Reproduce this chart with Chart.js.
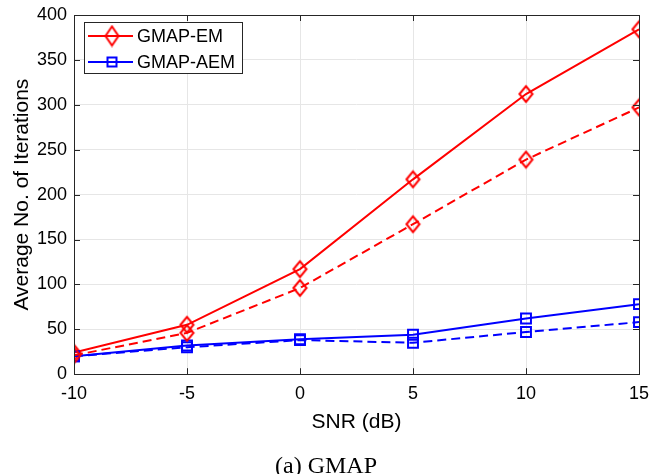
<!DOCTYPE html>
<html>
<head>
<meta charset="utf-8">
<script src="https://cdn.jsdelivr.net/npm/chart.js@4.4.1/dist/chart.umd.min.js"></script>
<style>
  html, body { margin: 0; padding: 0; background: #fff; }
  #wrap { width: 651px; height: 474px; position: relative; }
</style>
</head>
<body>
<div id="wrap"><canvas id="iterChart" width="651" height="474"></canvas></div>
<script>
// SNR points (dB)
let snr = [-10, -5, 0, 5, 10, 15];
let yTicks = [0, 50, 100, 150, 200, 250, 300, 350, 400];

let emSolid = [24, 55, 117, 217, 312, 384];
let emDashed = [21, 46, 96, 167, 239, 297];
let aemSolid = [20, 32, 39, 44, 62, 78];
let aemDashed = [20, 30, 38, 35, 47, 58];

let legendLabels = ["GMAP-EM", "GMAP-AEM"];
let caption = "(a) GMAP";

const RED = "#ff0000";
const BLUE = "#0000ff";
const SANS = "'Liberation Sans', Arial, sans-serif";

function pts(vals) {
  return vals.map((v, i) => ({ x: snr[i], y: v }));
}

// MATLAB-ish diamond, a bit taller than wide
function diamondCanvas(w, h) {
  let c = document.createElement("canvas");
  c.width = w + 4;
  c.height = h + 4;
  let g = c.getContext("2d");
  let cx = c.width / 2, cy = c.height / 2;
  g.strokeStyle = RED;
  g.lineWidth = 2;
  g.beginPath();
  g.moveTo(cx - w / 2, cy);
  g.lineTo(cx, cy - h / 2);
  g.lineTo(cx + w / 2, cy);
  g.lineTo(cx, cy + h / 2);
  g.closePath();
  g.stroke();
  return c;
}
let diamond = diamondCanvas(13, 16);
let legendDiamond = diamondCanvas(13, 19);

function drawSquare(ctx, x, y, s) {
  ctx.strokeRect(x - s / 2, y - s / 2, s, s);
}

// box, inward ticks, legend, caption
const matlabAxes = {
  id: "matlabAxes",
  afterDatasetsDraw(chart) {
    const ctx = chart.ctx;
    const a = chart.chartArea;
    const xs = chart.scales.x;
    const ys = chart.scales.y;
    ctx.save();
    ctx.strokeStyle = "#262626";
    ctx.lineWidth = 1;
    ctx.beginPath();
    snr.forEach((v) => {
      let px = Math.round(xs.getPixelForValue(v)) + 0.5;
      ctx.moveTo(px, a.bottom);
      ctx.lineTo(px, a.bottom - 6);
      ctx.moveTo(px, a.top);
      ctx.lineTo(px, a.top + 6);
    });
    yTicks.forEach((v) => {
      let py = Math.round(ys.getPixelForValue(v)) + 0.5;
      ctx.moveTo(a.left, py);
      ctx.lineTo(a.left + 6, py);
      ctx.moveTo(a.right, py);
      ctx.lineTo(a.right - 6, py);
    });
    ctx.stroke();
    ctx.strokeRect(Math.round(a.left) + 0.5, Math.round(a.top) + 0.5,
      Math.round(a.right - a.left), Math.round(a.bottom - a.top));

    // legend
    let lx = 84, ly = 22, lw = 158, lh = 51;
    ctx.fillStyle = "#fff";
    ctx.fillRect(lx, ly, lw, lh);
    ctx.strokeStyle = "#262626";
    ctx.strokeRect(lx + 0.5, ly + 0.5, lw, lh);
    ctx.font = "18px " + SANS;
    ctx.textBaseline = "middle";
    [RED, BLUE].forEach((color, i) => {
      let cy = ly + 14 + i * 26;
      ctx.strokeStyle = color;
      ctx.lineWidth = 2;
      ctx.beginPath();
      ctx.moveTo(lx + 4, cy);
      ctx.lineTo(lx + 49, cy);
      ctx.stroke();
      if (i === 0) {
        ctx.drawImage(legendDiamond, lx + 28 - legendDiamond.width / 2, cy - legendDiamond.height / 2);
      } else {
        drawSquare(ctx, lx + 28, cy, 9);
      }
      ctx.fillStyle = "#000";
      ctx.fillText(legendLabels[i], lx + 53, cy + 1);
    });

    // caption under the figure
    ctx.font = "24px 'Liberation Serif', 'Times New Roman', serif";
    ctx.textAlign = "center";
    ctx.textBaseline = "alphabetic";
    ctx.fillStyle = "#000";
    ctx.fillText(caption, 326, 473);
    ctx.restore();
  },
};

function series(vals, color, style, radius, dashed) {
  return {
    data: pts(vals),
    borderColor: color,
    backgroundColor: "rgba(0,0,0,0)",
    borderWidth: 2,
    borderDash: dashed ? [9, 5] : [],
    pointStyle: style,
    pointRadius: radius,
    pointBorderWidth: 2,
    pointBorderColor: color,
    pointBackgroundColor: "rgba(0,0,0,0)",
    tension: 0,
  };
}

var ctx = document.getElementById("iterChart").getContext("2d");
var iterChart = new Chart(ctx, {
  type: "line",
  data: {
    datasets: [
      series(emDashed, RED, diamond, 8, true),
      series(aemDashed, BLUE, "rect", 7, true),
      series(emSolid, RED, diamond, 8, false),
      series(aemSolid, BLUE, "rect", 7, false),
    ],
  },
  plugins: [matlabAxes],
  options: {
    responsive: false,
    animation: false,
    layout: { padding: { left: 10, right: 12, top: 15, bottom: 39 } },
    plugins: {
      legend: { display: false },
      tooltip: { enabled: false },
    },
    scales: {
      x: {
        type: "linear",
        min: -10,
        max: 15,
        afterBuildTicks: (s) => { s.ticks = snr.map((v) => ({ value: v })); },
        afterFit: (s) => { s.paddingLeft = 0; s.paddingRight = 0; },
        grid: { color: "#e6e6e6", drawTicks: false },
        border: { display: false },
        ticks: {
          color: "#000",
          padding: 9,
          font: { family: SANS, size: 18 },
        },
        title: {
          display: true,
          text: "SNR (dB)",
          color: "#000",
          padding: { top: -4, bottom: 0 },
          font: { family: SANS, size: 21 },
        },
      },
      y: {
        min: 0,
        max: 400,
        afterBuildTicks: (s) => { s.ticks = yTicks.map((v) => ({ value: v })); },
        afterFit: (s) => { s.width = 64; s.paddingTop = 0; s.paddingBottom = 0; },
        grid: { color: "#e6e6e6", drawTicks: false },
        border: { display: false },
        ticks: {
          color: "#000",
          padding: 7,
          font: { family: SANS, size: 18 },
        },
        title: {
          display: true,
          text: "Average No. of Iterations",
          color: "#000",
          padding: { top: 0, bottom: 0 },
          font: { family: SANS, size: 21 },
        },
      },
    },
  },
});
</script>
</body>
</html>
